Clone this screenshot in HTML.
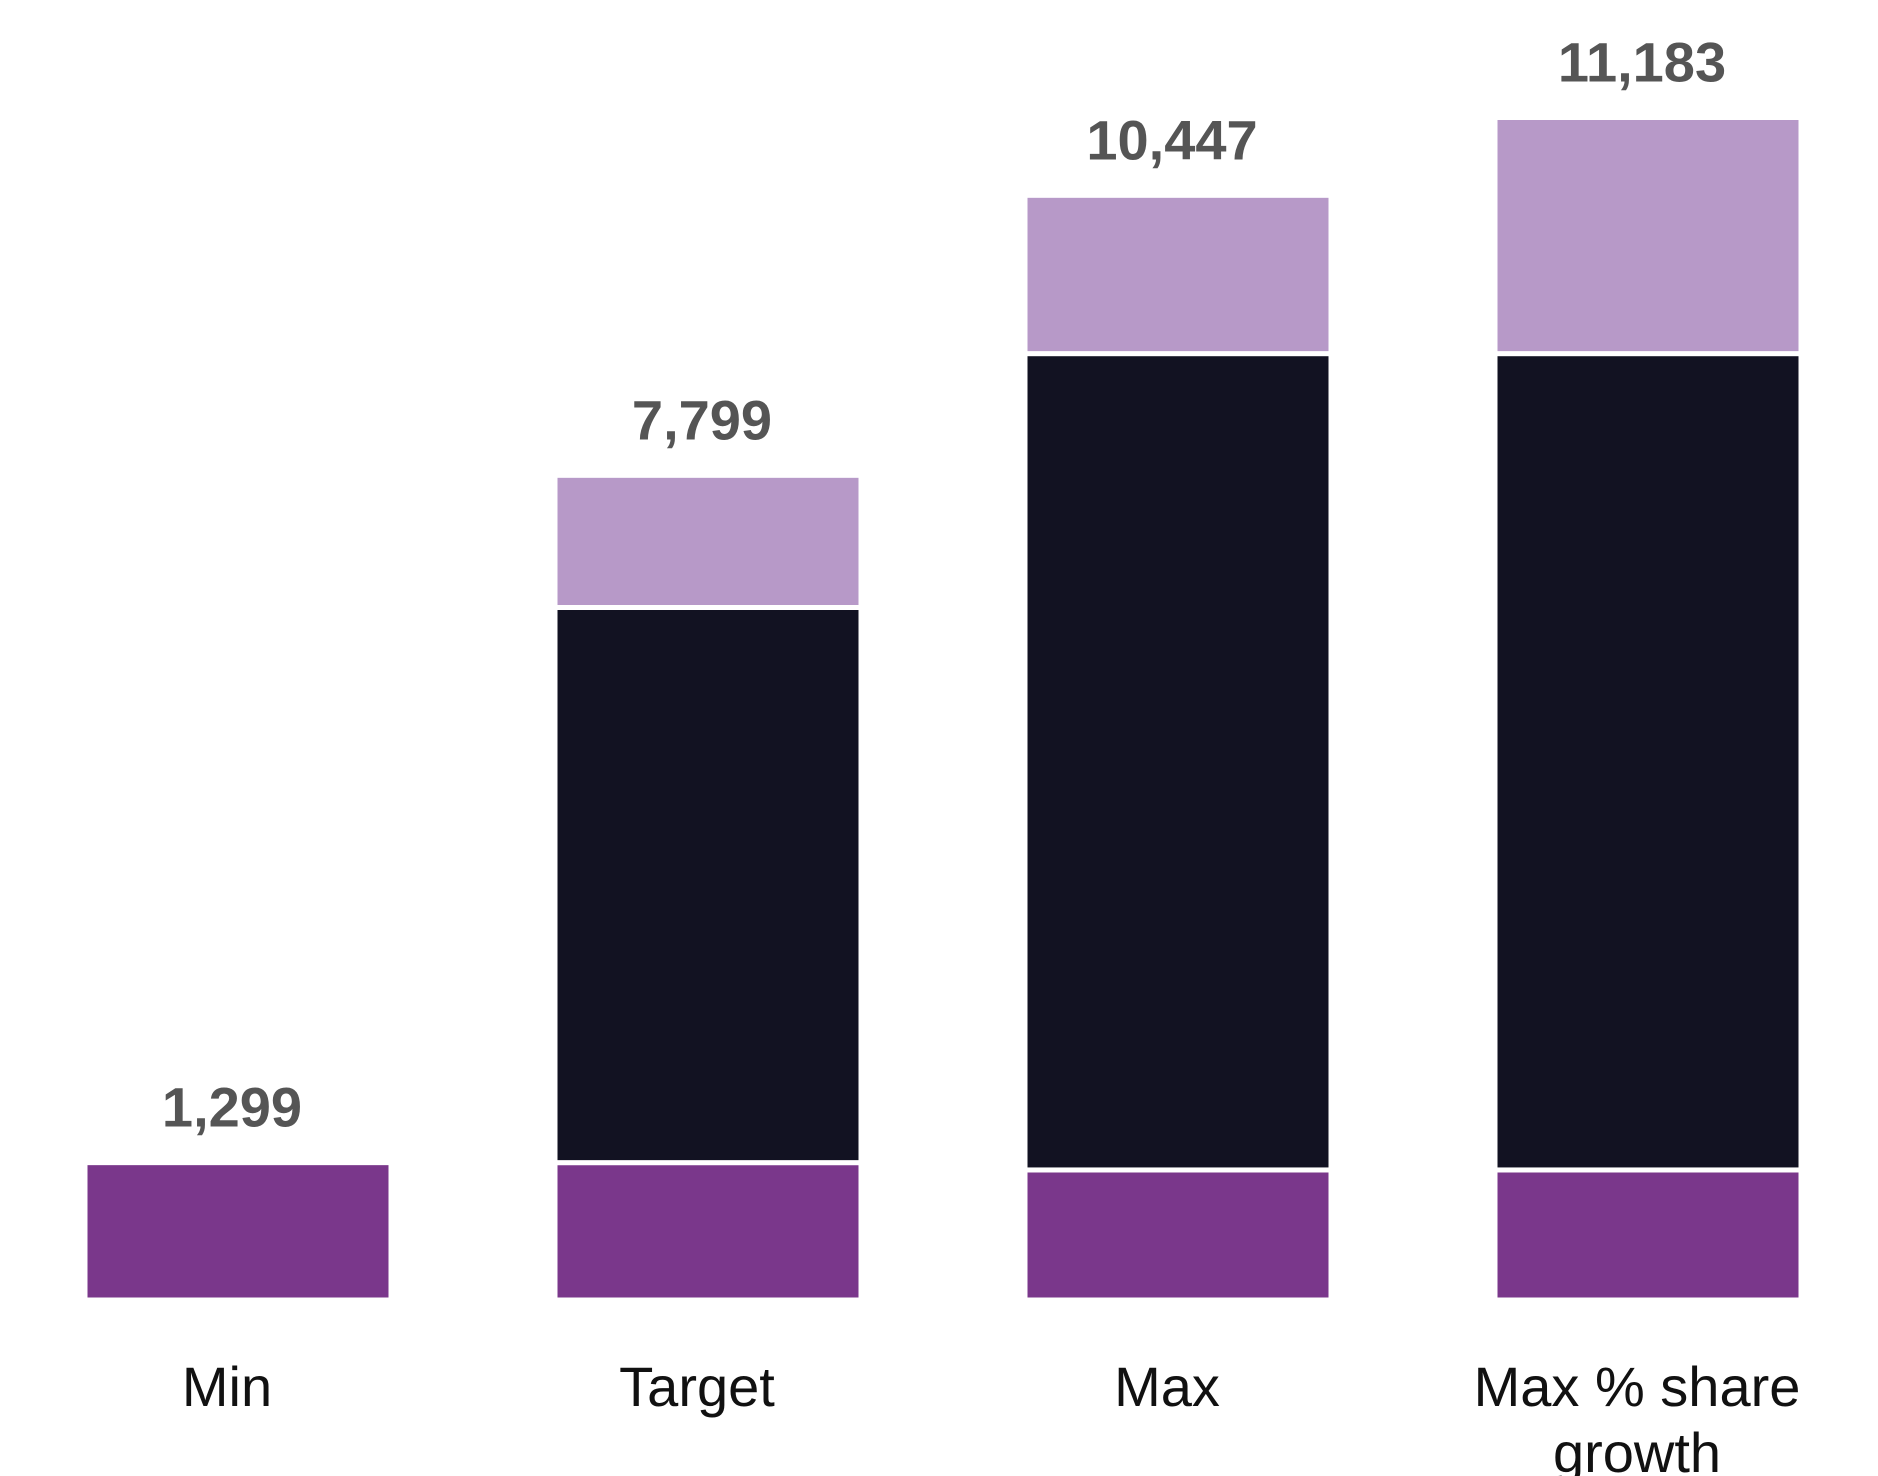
<!DOCTYPE html>
<html><head><meta charset="utf-8"><style>
html,body{margin:0;padding:0;background:#fff;width:1878px;height:1476px;overflow:hidden}
svg{display:block}
</style></head><body>
<svg id="chart" width="1878" height="1476" xmlns="http://www.w3.org/2000/svg"></svg>
<script>
const categories = ["Min", "Target", "Max", "Max % share growth"];
const seriesBase = [1299, 1299, 1230, 1230];
const seriesMid = [0, 5250, 7720, 7720];
const seriesTop = [0, 1250, 1497, 2233];
const totalLabels = ["1,299", "7,799", "10,447", "11,183"];

const NS = "http://www.w3.org/2000/svg";
const svg = document.getElementById("chart");
const baseY = 1300, scale = 1182.5 / 11183;
const x0 = 85, step = 470, barW = 306;
function yPos(v){ return baseY - v * scale; }
function xPos(i){ return x0 + i * step; }
const colors = ["#7a378b", "#121222", "#b799c8"];
const series = [seriesBase, seriesMid, seriesTop];
const segNames = ["base", "mid", "top"];

categories.forEach((cat, i) => {
  let cum = 0;
  series.forEach((s, k) => {
    const v = s[i];
    if (v <= 0) return;
    const r = document.createElementNS(NS, "rect");
    r.setAttribute("x", xPos(i));
    r.setAttribute("y", yPos(cum + v));
    r.setAttribute("width", barW);
    r.setAttribute("height", v * scale);
    r.setAttribute("fill", colors[k]);
    r.setAttribute("stroke", "#fff");
    r.setAttribute("stroke-width", "5");
    
    
    svg.appendChild(r);
    cum += v;
  });
  const total = seriesBase[i] + seriesMid[i] + seriesTop[i];
  const t = document.createElementNS(NS, "text");
  t.setAttribute("x", xPos(i) + barW / 2 - 6);
  t.setAttribute("y", yPos(total) - 36);
  t.setAttribute("text-anchor", "middle");
  t.setAttribute("font-family", "Liberation Sans, Arial, sans-serif");
  t.setAttribute("font-weight", "bold");
  t.setAttribute("font-size", "56");
  t.setAttribute("fill", "#555555");
  t.textContent = totalLabels[i];
  
  
  svg.appendChild(t);

  const cx = xPos(i) + barW / 2 - 11;
  const c = document.createElementNS(NS, "text");
  c.setAttribute("x", cx);
  c.setAttribute("y", 1406);
  c.setAttribute("text-anchor", "middle");
  c.setAttribute("font-family", "Liberation Sans, Arial, sans-serif");
  c.setAttribute("font-size", "56");
  c.setAttribute("fill", "#111111");
  
  
  if (cat === "Max % share growth") {
    const a = document.createElementNS(NS, "tspan");
    a.setAttribute("x", cx);
    a.textContent = "Max % share";
    const b = document.createElementNS(NS, "tspan");
    b.setAttribute("x", cx);
    b.setAttribute("dy", "66");
    b.textContent = "growth";
    c.appendChild(a); c.appendChild(b);
  } else {
    c.textContent = cat;
  }
  svg.appendChild(c);
});
</script>
</body></html>
